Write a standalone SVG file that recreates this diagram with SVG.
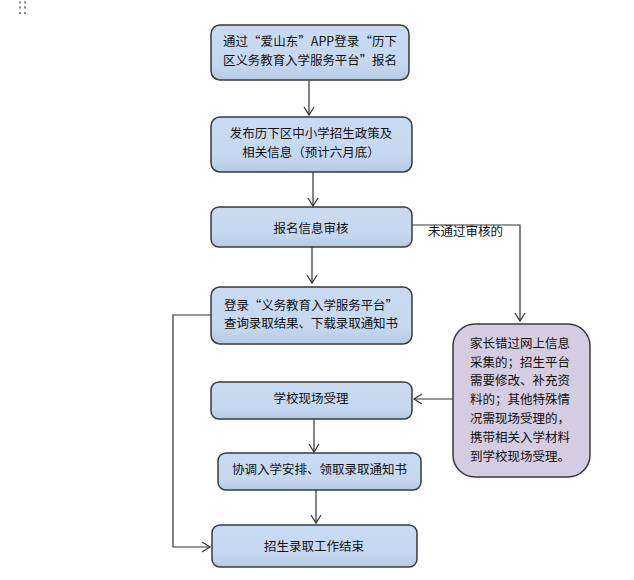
<svg xmlns="http://www.w3.org/2000/svg" width="634" height="580" viewBox="0 0 634 580">
<defs>
<linearGradient id="gb" x1="0" y1="0" x2="0" y2="1">
<stop offset="0" stop-color="#c9dbf2"/>
<stop offset="0.7" stop-color="#c6d8f0"/>
<stop offset="1" stop-color="#b6cae3"/>
</linearGradient>
<marker id="ah" markerWidth="12" markerHeight="12" refX="10" refY="6" orient="auto" markerUnits="userSpaceOnUse">
<path d="M2,1 L10,6 L2,11" fill="none" stroke="#333" stroke-width="1.2"/>
</marker>
<style>
.box{fill:url(#gb);stroke:#3a3a3a;stroke-width:1.5}
.pbox{fill:#d4cce1;stroke:#3a3a3a;stroke-width:1.5}
text{font-family:"Noto Sans CJK SC","Noto Sans",sans-serif;font-size:12.5px;fill:#111}
.c{text-anchor:middle}
.ln{fill:none;stroke:#333;stroke-width:1.2}
.dot{fill:#8a8a8a}
</style>
</defs>
<g id="handle">
<rect class="dot" x="19" y="1.5" width="2" height="2"/>
<rect class="dot" x="24" y="1.5" width="2" height="2"/>
<rect class="dot" x="19" y="6.5" width="2" height="2"/>
<rect class="dot" x="24" y="6.5" width="2" height="2"/>
<rect class="dot" x="19" y="12" width="2" height="2"/>
<rect class="dot" x="24" y="12" width="2" height="2"/>
</g>
<g id="connectors">
<line class="ln" x1="309" y1="80" x2="309" y2="115" marker-end="url(#ah)"/>
<line class="ln" x1="313" y1="172" x2="313" y2="206" marker-end="url(#ah)"/>
<line class="ln" x1="312" y1="247" x2="312" y2="283" marker-end="url(#ah)"/>
<polyline class="ln" points="412,225 520,225 520,321" marker-end="url(#ah)"/>
<line class="ln" x1="453" y1="399" x2="414" y2="399" marker-end="url(#ah)"/>
<line class="ln" x1="314" y1="419" x2="314" y2="452" marker-end="url(#ah)"/>
<line class="ln" x1="316" y1="490" x2="316" y2="523" marker-end="url(#ah)"/>
<polyline class="ln" points="211,315 173,315 173,547 210,547" marker-end="url(#ah)"/>
<text x="428" y="236">未通过审核的</text>
</g>
<g id="n1">
<rect class="box" x="211" y="25" width="198" height="55" rx="9"/>
<text x="223" y="46" textLength="174" lengthAdjust="spacing">通过“爱山东”APP登录“历下</text>
<text x="223" y="65" textLength="174" lengthAdjust="spacing">区义务教育入学服务平台”报名</text>
</g>
<g id="n2">
<rect class="box" x="211" y="117" width="201" height="55" rx="9"/>
<text class="c" x="311" y="138">发布历下区中小学招生政策及</text>
<text class="c" x="311" y="157">相关信息（预计六月底）</text>
</g>
<g id="n3">
<rect class="box" x="211" y="207" width="201" height="40" rx="8"/>
<text class="c" x="311" y="233">报名信息审核</text>
</g>
<g id="n4">
<rect class="box" x="211" y="287" width="201" height="57" rx="9"/>
<text x="224" y="310" textLength="174" lengthAdjust="spacing">登录“义务教育入学服务平台”</text>
<text x="224" y="328" textLength="174" lengthAdjust="spacing">查询录取结果、下载录取通知书</text>
</g>
<g id="n5">
<rect class="pbox" x="453" y="324" width="137" height="153" rx="22"/>
<text class="c" x="520" y="348">家长错过网上信息</text>
<text class="c" x="520" y="367">采集的；招生平台</text>
<text class="c" x="520" y="385">需要修改、补充资</text>
<text class="c" x="520" y="404">料的；其他特殊情</text>
<text class="c" x="520" y="423">况需现场受理的，</text>
<text class="c" x="520" y="442">携带相关入学材料</text>
<text class="c" x="520" y="461">到学校现场受理。</text>
</g>
<g id="n6">
<rect class="box" x="211" y="382" width="201" height="37" rx="8"/>
<text class="c" x="311" y="403">学校现场受理</text>
</g>
<g id="n7">
<rect class="box" x="218" y="453" width="203" height="37" rx="8"/>
<text x="232" y="474" textLength="175" lengthAdjust="spacing">协调入学安排、领取录取通知书</text>
</g>
<g id="n8">
<rect class="box" x="212" y="525" width="205" height="42" rx="8"/>
<text class="c" x="314" y="551">招生录取工作结束</text>
</g>
</svg>
